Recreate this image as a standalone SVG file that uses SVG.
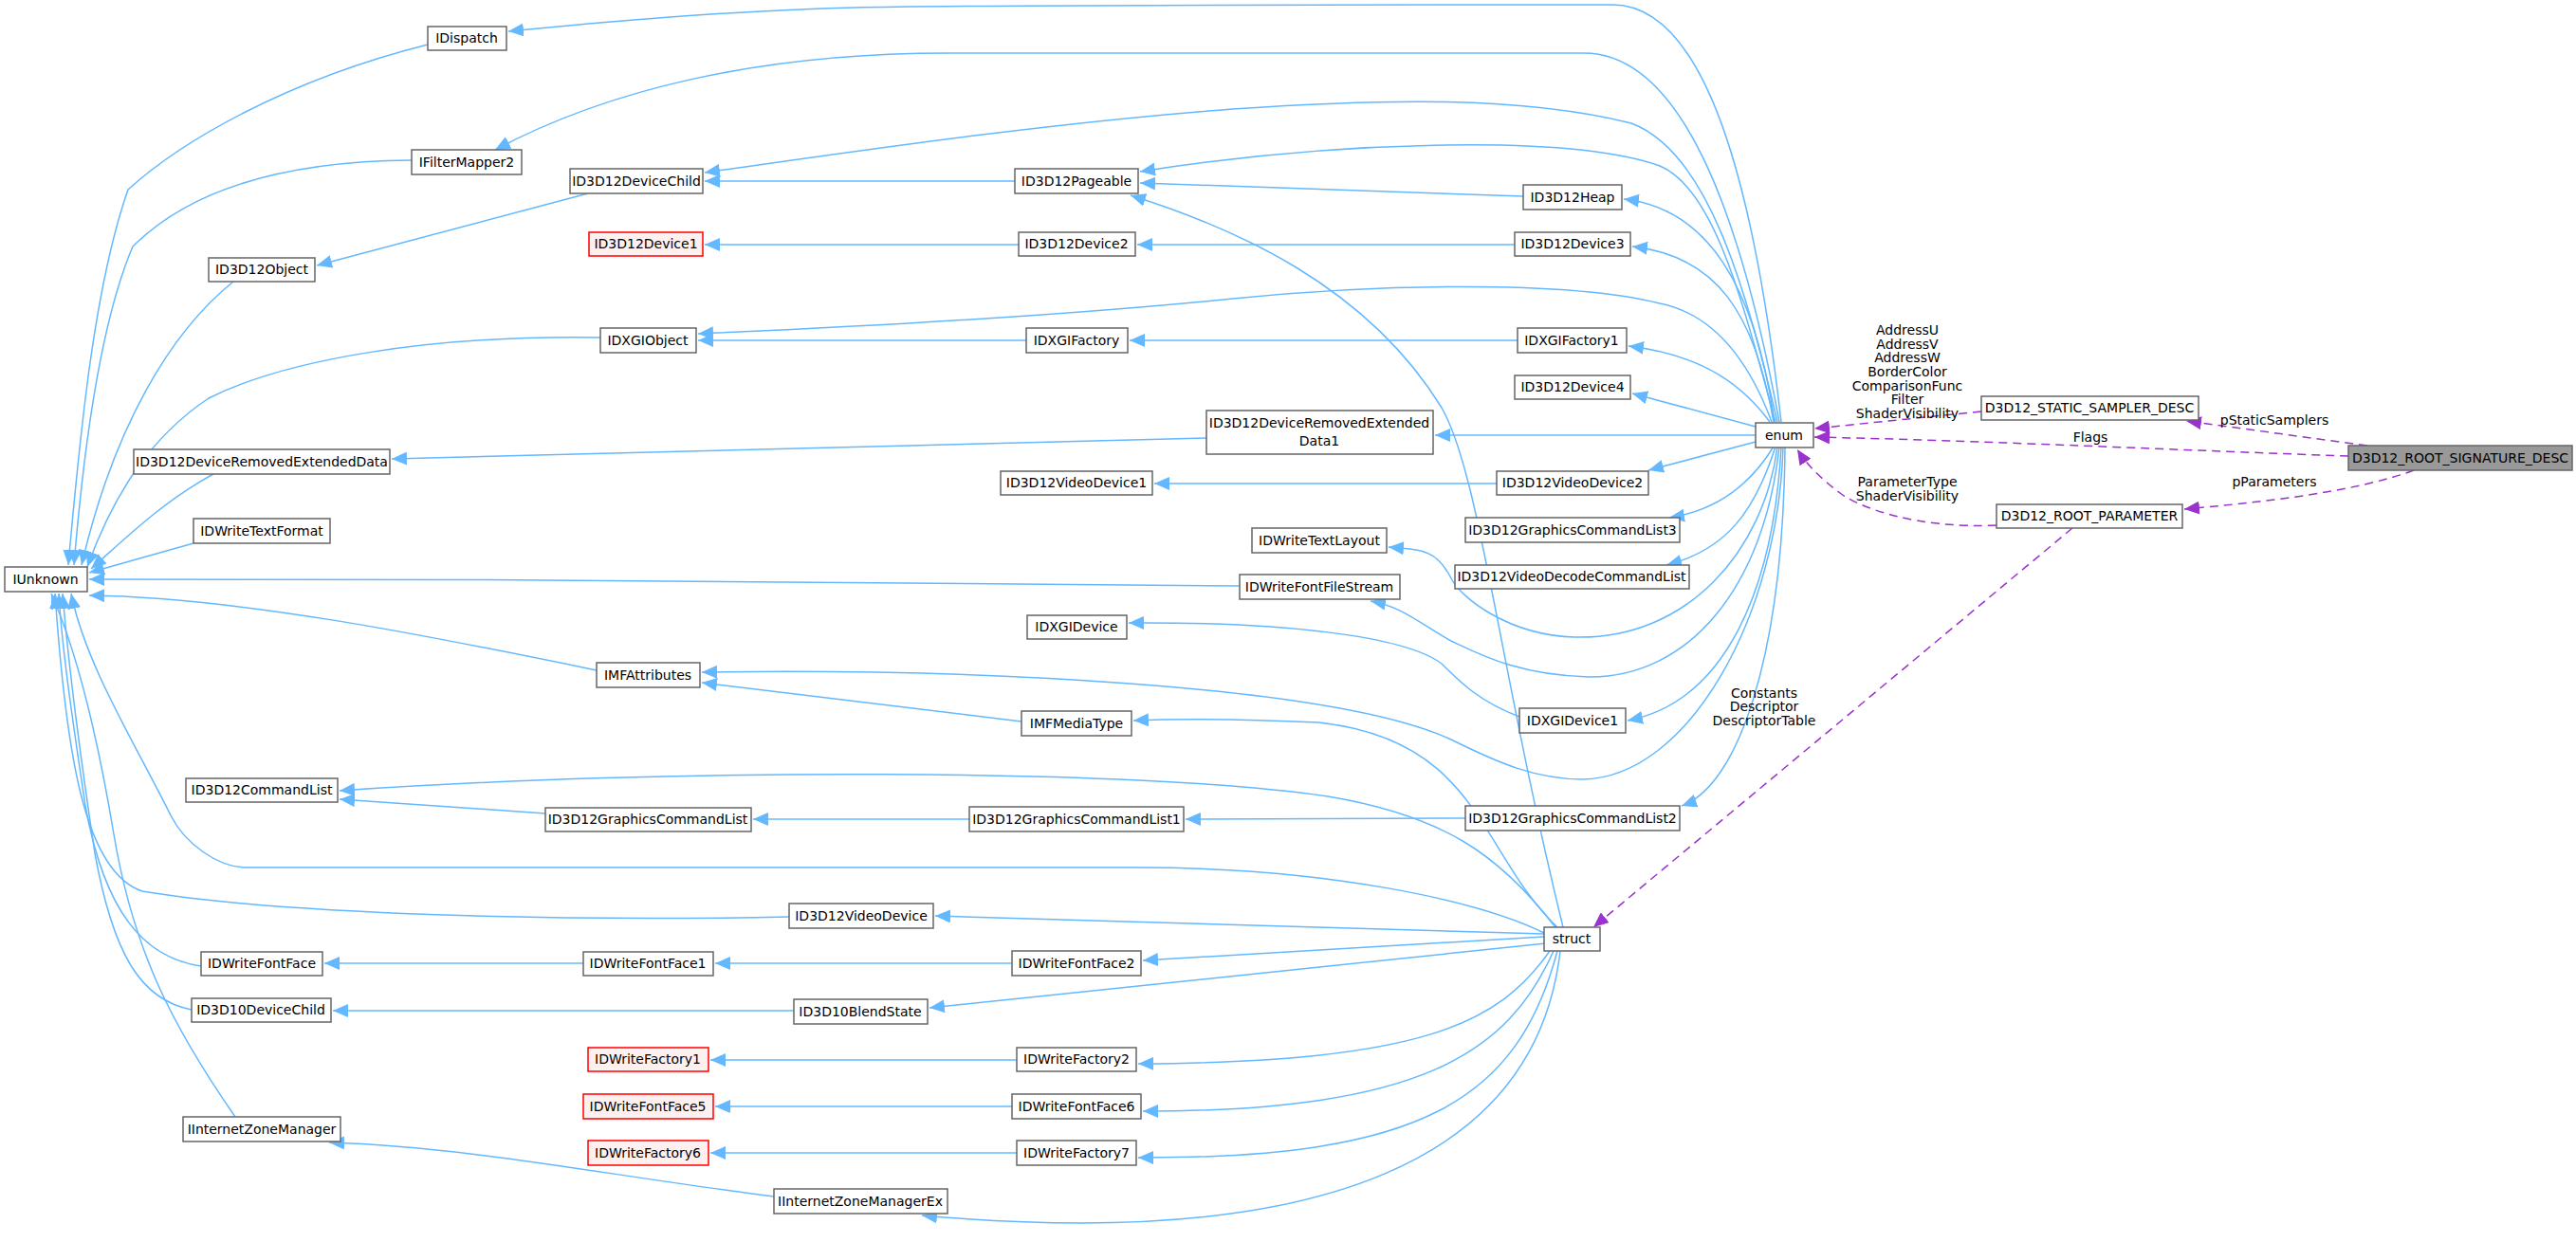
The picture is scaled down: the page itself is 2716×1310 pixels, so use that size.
<svg xmlns="http://www.w3.org/2000/svg" width="2716" height="1310" viewBox="0 0 2716 1310">
<defs>
<style>
.n rect{fill:#fff;stroke:#666;stroke-width:1.5}
.r rect{fill:#fff0f0;stroke:#f00;stroke-width:1.5}
.g rect{fill:#999;stroke:#666;stroke-width:1.5}
text{font-family:"DejaVu Sans",sans-serif;font-size:14px;text-anchor:middle;fill:#000}
.e path{fill:none;stroke:#63b8ff;stroke-width:1.5;marker-end:url(#ab)}
.e path.d{stroke:#9a32cd;stroke-dasharray:9,6;marker-end:url(#ap)}
</style>
<marker id="ab" markerUnits="userSpaceOnUse" markerWidth="18" markerHeight="14" refX="16" refY="7" orient="auto"><path d="M0,0 L16,7 L0,14 z" fill="#63b8ff"/></marker>
<marker id="ap" markerUnits="userSpaceOnUse" markerWidth="18" markerHeight="14" refX="16" refY="7" orient="auto"><path d="M0,0 L16,7 L0,14 z" fill="#9a32cd"/></marker>
</defs>
<rect width="2716" height="1310" fill="#fff"/>
<g class="e" id="edges">
<path d="M1878,445 C1850,200 1800,5 1700,5 C1400,5 1000,5 900,8 C750,12 620,25 536,33"/>
<path d="M1876,445 C1840,250 1780,56 1670,56 L1000,56 C800,56 640,95 522,158"/>
<path d="M1874,445 C1840,300 1800,160 1720,130 C1600,100 1450,105 1300,115 C1100,130 900,160 743,182"/>
<path d="M1872,445 C1840,330 1810,200 1750,175 C1650,140 1400,150 1202,181"/>
<path d="M1070,191 L743,191"/>
<path d="M620,204 L334,280"/>
<path d="M1871,445 C1850,300 1800,220 1712,210"/>
<path d="M1606,207 L1202,193"/>
<path d="M1870,445 C1850,330 1810,270 1721,260"/>
<path d="M1597,258 L1199,258"/>
<path d="M1074,258 L743,258"/>
<path d="M1868,445 C1840,370 1800,330 1750,320 C1650,295 1450,300 1300,315 C1100,335 900,345 736,352"/>
<path d="M1082,359 L736,359"/>
<path d="M1600,359 L1191,359"/>
<path d="M1866,445 C1840,410 1800,375 1717,365"/>
<path d="M1851,450 L1721,415"/>
<path d="M1851,459 L1513,459"/>
<path d="M1272,462 L413,484"/>
<path d="M1851,466 L1738,496"/>
<path d="M1578,510 L1217,510"/>
<path d="M1870,471 C1840,520 1800,540 1760,546"/>
<path d="M1872,471 C1850,540 1820,580 1757,596"/>
<path d="M1874,471 C1860,580 1780,675 1660,672 C1590,670 1540,630 1530,610 C1515,580 1500,580 1464,577"/>
<path d="M1876,471 C1860,620 1780,715 1675,714 C1600,712 1560,690 1530,676 C1500,660 1480,640 1445,634"/>
<path d="M1307,618 C1000,614 500,610 94,611"/>
<path d="M1602,756 C1560,740 1540,720 1520,700 C1480,670 1350,656 1190,657"/>
<path d="M1878,471 C1870,620 1820,740 1716,760"/>
<path d="M1880,471 C1875,650 1780,820 1669,822 C1620,822 1580,805 1530,780 C1400,720 1000,705 740,709"/>
<path d="M1077,761 L740,720"/>
<path d="M1642,978 C1560,900 1560,780 1390,762 C1300,758 1240,758 1195,760"/>
<path d="M1882,471 C1880,700 1830,830 1773,850"/>
<path d="M1545,863 L1250,864"/>
<path d="M1022,864 L794,864"/>
<path d="M575,858 L358,843"/>
<path d="M1640,978 C1580,900 1520,860 1400,840 C1200,810 700,810 358,834"/>
<path d="M1648,978 C1580,700 1560,500 1520,430 C1440,300 1300,240 1192,206"/>
<path d="M1630,985 C1560,950 1400,915 1200,915 L260,915 C230,915 195,890 180,860 C140,780 90,700 75,626"/>
<path d="M1628,985 L986,966"/>
<path d="M832,967 C600,972 300,965 150,940 C90,920 70,800 58,626"/>
<path d="M1628,988 L1205,1013"/>
<path d="M1067,1016 L754,1016"/>
<path d="M615,1016 L342,1016"/>
<path d="M212,1019 C150,1010 110,960 90,850 C75,750 65,680 62,626"/>
<path d="M1630,995 L980,1063"/>
<path d="M837,1066 L351,1066"/>
<path d="M202,1065 C150,1055 120,1010 100,900 C85,800 72,700 66,626"/>
<path d="M1634,1003 C1580,1080 1500,1120 1200,1122"/>
<path d="M1072,1118 L749,1118"/>
<path d="M1638,1003 C1590,1110 1500,1172 1205,1172"/>
<path d="M1067,1167 L754,1167"/>
<path d="M1642,1003 C1600,1160 1500,1222 1200,1221"/>
<path d="M1072,1216 L749,1216"/>
<path d="M1645,1003 C1620,1220 1400,1320 972,1282"/>
<path d="M816,1262 C640,1240 500,1210 347,1205"/>
<path d="M248,1178 C180,1080 140,1000 120,880 C100,760 78,680 54,626"/>
<path d="M451,47 C300,85 190,150 135,200 C100,300 85,450 72,596"/>
<path d="M434,169 C300,170 200,200 140,260 C110,330 90,450 78,596"/>
<path d="M246,297 C180,350 120,450 86,596"/>
<path d="M633,356 C450,353 300,380 220,420 C160,460 120,520 92,598"/>
<path d="M225,500 C170,530 130,570 96,600"/>
<path d="M204,573 L94,604"/>
<path d="M629,707 C450,670 250,630 94,628"/>
<path class="d" d="M2089,434 L1913,452"/>
<path class="d" d="M2476,481 C2300,475 2100,465 1913,461"/>
<path class="d" d="M2105,554 C2020,558 1960,535 1940,520 C1920,505 1905,490 1895,474"/>
<path class="d" d="M2496,470 L2305,444"/>
<path class="d" d="M2545,496 C2480,520 2380,530 2303,537"/>
<path class="d" d="M2185,557 L1680,978"/>
</g>
<g id="labels">
<text x="2011" y="353">AddressU</text><text x="2011" y="368">AddressV</text><text x="2011" y="382">AddressW</text><text x="2011" y="397">BorderColor</text><text x="2011" y="412">ComparisonFunc</text><text x="2011" y="426">Filter</text><text x="2011" y="441">ShaderVisibility</text>
<text x="2398" y="448">pStaticSamplers</text>
<text x="2204" y="466">Flags</text>
<text x="2398" y="513">pParameters</text>
<text x="2011" y="513">ParameterType</text><text x="2011" y="528">ShaderVisibility</text>
<text x="1860" y="736">Constants</text><text x="1860" y="750">Descriptor</text><text x="1860" y="765">DescriptorTable</text>
</g>
<g id="IDispatch" class="n"><rect x="451" y="28" width="83" height="25"/><text x="492" y="45">IDispatch</text></g>
<g id="IFilterMapper2" class="n"><rect x="434" y="158" width="116" height="26"/><text x="492" y="176">IFilterMapper2</text></g>
<g id="ID3D12DeviceChild" class="n"><rect x="601" y="178" width="140" height="26"/><text x="671" y="196">ID3D12DeviceChild</text></g>
<g id="ID3D12Pageable" class="n"><rect x="1070" y="178" width="130" height="26"/><text x="1135" y="196">ID3D12Pageable</text></g>
<g id="ID3D12Heap" class="n"><rect x="1606" y="195" width="104" height="26"/><text x="1658" y="213">ID3D12Heap</text></g>
<g id="ID3D12Device1" class="r"><rect x="621" y="245" width="120" height="25"/><text x="681" y="262">ID3D12Device1</text></g>
<g id="ID3D12Device2" class="n"><rect x="1074" y="245" width="123" height="25"/><text x="1135" y="262">ID3D12Device2</text></g>
<g id="ID3D12Device3" class="n"><rect x="1597" y="245" width="122" height="25"/><text x="1658" y="262">ID3D12Device3</text></g>
<g id="ID3D12Object" class="n"><rect x="220" y="272" width="112" height="25"/><text x="276" y="289">ID3D12Object</text></g>
<g id="IDXGIObject" class="n"><rect x="633" y="346" width="101" height="26"/><text x="683" y="364">IDXGIObject</text></g>
<g id="IDXGIFactory" class="n"><rect x="1082" y="346" width="107" height="26"/><text x="1135" y="364">IDXGIFactory</text></g>
<g id="IDXGIFactory1" class="n"><rect x="1600" y="346" width="115" height="26"/><text x="1657" y="364">IDXGIFactory1</text></g>
<g id="ID3D12Device4" class="n"><rect x="1597" y="396" width="122" height="25"/><text x="1658" y="413">ID3D12Device4</text></g>
<g id="D3D12_STATIC_SAMPLER_DESC" class="n"><rect x="2089" y="418" width="229" height="25"/><text x="2203" y="435">D3D12_STATIC_SAMPLER_DESC</text></g>
<g id="ID3D12DeviceRemovedExtendedData1" class="n"><rect x="1272" y="433" width="239" height="46"/><text x="1391" y="451">ID3D12DeviceRemovedExtended</text><text x="1391" y="470">Data1</text></g>
<g id="enum" class="n"><rect x="1851" y="446" width="61" height="26"/><text x="1881" y="464">enum</text></g>
<g id="D3D12_ROOT_SIGNATURE_DESC" class="g"><rect x="2476" y="470" width="236" height="26"/><text x="2594" y="488">D3D12_ROOT_SIGNATURE_DESC</text></g>
<g id="ID3D12DeviceRemovedExtendedData" class="n"><rect x="141" y="474" width="270" height="26"/><text x="276" y="492">ID3D12DeviceRemovedExtendedData</text></g>
<g id="ID3D12VideoDevice1" class="n"><rect x="1055" y="497" width="160" height="25"/><text x="1135" y="514">ID3D12VideoDevice1</text></g>
<g id="ID3D12VideoDevice2" class="n"><rect x="1578" y="497" width="160" height="25"/><text x="1658" y="514">ID3D12VideoDevice2</text></g>
<g id="D3D12_ROOT_PARAMETER" class="n"><rect x="2105" y="532" width="196" height="25"/><text x="2203" y="549">D3D12_ROOT_PARAMETER</text></g>
<g id="ID3D12GraphicsCommandList3" class="n"><rect x="1545" y="546" width="226" height="26"/><text x="1658" y="564">ID3D12GraphicsCommandList3</text></g>
<g id="IDWriteTextFormat" class="n"><rect x="204" y="547" width="144" height="26"/><text x="276" y="565">IDWriteTextFormat</text></g>
<g id="IDWriteTextLayout" class="n"><rect x="1320" y="557" width="142" height="26"/><text x="1391" y="575">IDWriteTextLayout</text></g>
<g id="ID3D12VideoDecodeCommandList" class="n"><rect x="1534" y="596" width="247" height="25"/><text x="1657" y="613">ID3D12VideoDecodeCommandList</text></g>
<g id="IUnknown" class="n"><rect x="5" y="598" width="87" height="26"/><text x="48" y="616">IUnknown</text></g>
<g id="IDWriteFontFileStream" class="n"><rect x="1307" y="606" width="169" height="26"/><text x="1391" y="624">IDWriteFontFileStream</text></g>
<g id="IDXGIDevice" class="n"><rect x="1083" y="649" width="105" height="25"/><text x="1135" y="666">IDXGIDevice</text></g>
<g id="IMFAttributes" class="n"><rect x="629" y="699" width="109" height="26"/><text x="683" y="717">IMFAttributes</text></g>
<g id="IDXGIDevice1" class="n"><rect x="1602" y="747" width="112" height="26"/><text x="1658" y="765">IDXGIDevice1</text></g>
<g id="IMFMediaType" class="n"><rect x="1077" y="750" width="116" height="26"/><text x="1135" y="768">IMFMediaType</text></g>
<g id="ID3D12CommandList" class="n"><rect x="196" y="821" width="160" height="25"/><text x="276" y="838">ID3D12CommandList</text></g>
<g id="ID3D12GraphicsCommandList2" class="n"><rect x="1545" y="850" width="226" height="26"/><text x="1658" y="868">ID3D12GraphicsCommandList2</text></g>
<g id="ID3D12GraphicsCommandList1" class="n"><rect x="1022" y="851" width="226" height="26"/><text x="1135" y="869">ID3D12GraphicsCommandList1</text></g>
<g id="ID3D12GraphicsCommandList" class="n"><rect x="575" y="852" width="217" height="25"/><text x="683" y="869">ID3D12GraphicsCommandList</text></g>
<g id="ID3D12VideoDevice" class="n"><rect x="832" y="953" width="152" height="26"/><text x="908" y="971">ID3D12VideoDevice</text></g>
<g id="struct" class="n"><rect x="1628" y="978" width="59" height="25"/><text x="1657" y="995">struct</text></g>
<g id="IDWriteFontFace" class="n"><rect x="212" y="1004" width="128" height="25"/><text x="276" y="1021">IDWriteFontFace</text></g>
<g id="IDWriteFontFace1" class="n"><rect x="615" y="1004" width="137" height="25"/><text x="683" y="1021">IDWriteFontFace1</text></g>
<g id="IDWriteFontFace2" class="n"><rect x="1067" y="1003" width="136" height="26"/><text x="1135" y="1021">IDWriteFontFace2</text></g>
<g id="ID3D10DeviceChild" class="n"><rect x="202" y="1053" width="147" height="25"/><text x="275" y="1070">ID3D10DeviceChild</text></g>
<g id="ID3D10BlendState" class="n"><rect x="837" y="1054" width="141" height="26"/><text x="907" y="1072">ID3D10BlendState</text></g>
<g id="IDWriteFactory1" class="r"><rect x="620" y="1105" width="127" height="25"/><text x="683" y="1122">IDWriteFactory1</text></g>
<g id="IDWriteFactory2" class="n"><rect x="1072" y="1105" width="126" height="25"/><text x="1135" y="1122">IDWriteFactory2</text></g>
<g id="IDWriteFontFace5" class="r"><rect x="615" y="1154" width="137" height="26"/><text x="683" y="1172">IDWriteFontFace5</text></g>
<g id="IDWriteFontFace6" class="n"><rect x="1067" y="1154" width="136" height="26"/><text x="1135" y="1172">IDWriteFontFace6</text></g>
<g id="IInternetZoneManager" class="n"><rect x="193" y="1178" width="166" height="26"/><text x="276" y="1196">IInternetZoneManager</text></g>
<g id="IDWriteFactory6" class="r"><rect x="620" y="1203" width="127" height="26"/><text x="683" y="1221">IDWriteFactory6</text></g>
<g id="IDWriteFactory7" class="n"><rect x="1072" y="1203" width="126" height="26"/><text x="1135" y="1221">IDWriteFactory7</text></g>
<g id="IInternetZoneManagerEx" class="n"><rect x="816" y="1254" width="183" height="26"/><text x="907" y="1272">IInternetZoneManagerEx</text></g>
</svg>
